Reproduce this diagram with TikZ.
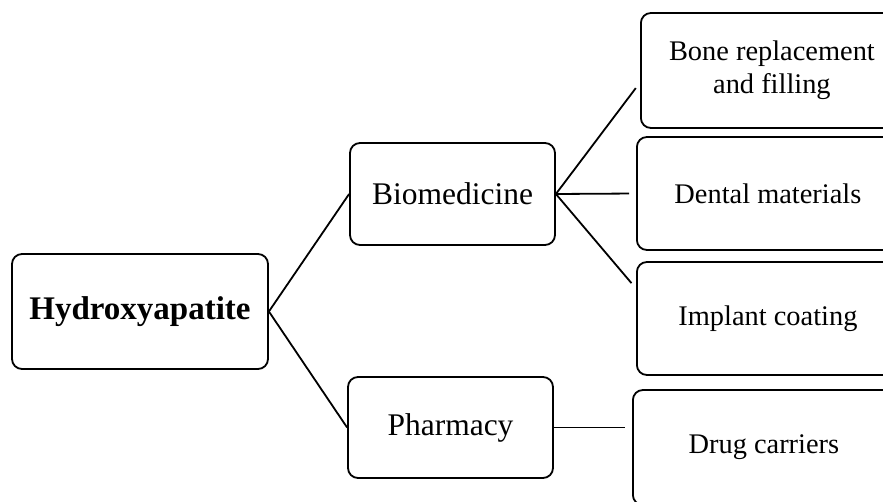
\documentclass[tikz,border=0pt]{standalone}
\usepackage{fontspec}
\setmainfont{Liberation Serif}
\begin{document}
\begin{tikzpicture}[x=1pt, y=1pt, line width=1.8pt,
	box/.style={draw, rounded corners=10pt, inner sep=0pt},
	branch/.style={box, minimum width=205pt, minimum height=102pt, font=\fontsize{31.5}{36}\selectfont},
	leaf/.style={box, anchor=west, minimum width=262pt, minimum height=114pt, align=center, font=\fontsize{28.4}{33}\selectfont},
	link/.style={shorten >=7pt}]
	\useasboundingbox (0,0) rectangle (883,501);
	\clip (0,0) rectangle (883,501);
	
	% Radice
	\node[box, minimum width=256pt, minimum height=115pt, font=\fontsize{33}{38}\selectfont\bfseries] (hydro) at (140,189.5) {Hydroxyapatite};
	
	% Rami
	\node[branch] (bio) at (452.5,307) {Biomedicine};
	\node[branch, minimum height=101pt] (pharm) at (450.5,73.5) {Pharmacy};
	
	% Foglie
	\node[leaf, minimum height=115pt] (bone) at (640,430.5) {Bone replacement\\and filling};
	\node[leaf, minimum height=113pt] (dental) at (636,307.5) {Dental materials};
	\node[leaf, minimum height=113pt] (implant) at (636,182.5) {Implant coating};
	\node[leaf, minimum height=115pt] (drug) at (632,53.5) {Drug carriers};
	
	% Collegamenti
	\draw (hydro.east) -- (bio.west);
	\draw (hydro.east) -- (pharm.west);
	\foreach \y/\t in {-12/bone, 0/dental, 30/implant} \draw[link] (bio.east) -- ([yshift=\y pt]\t.west);
	\draw[link] (pharm.east) -- (pharm.east -| drug.west);
\end{tikzpicture}
\end{document}
